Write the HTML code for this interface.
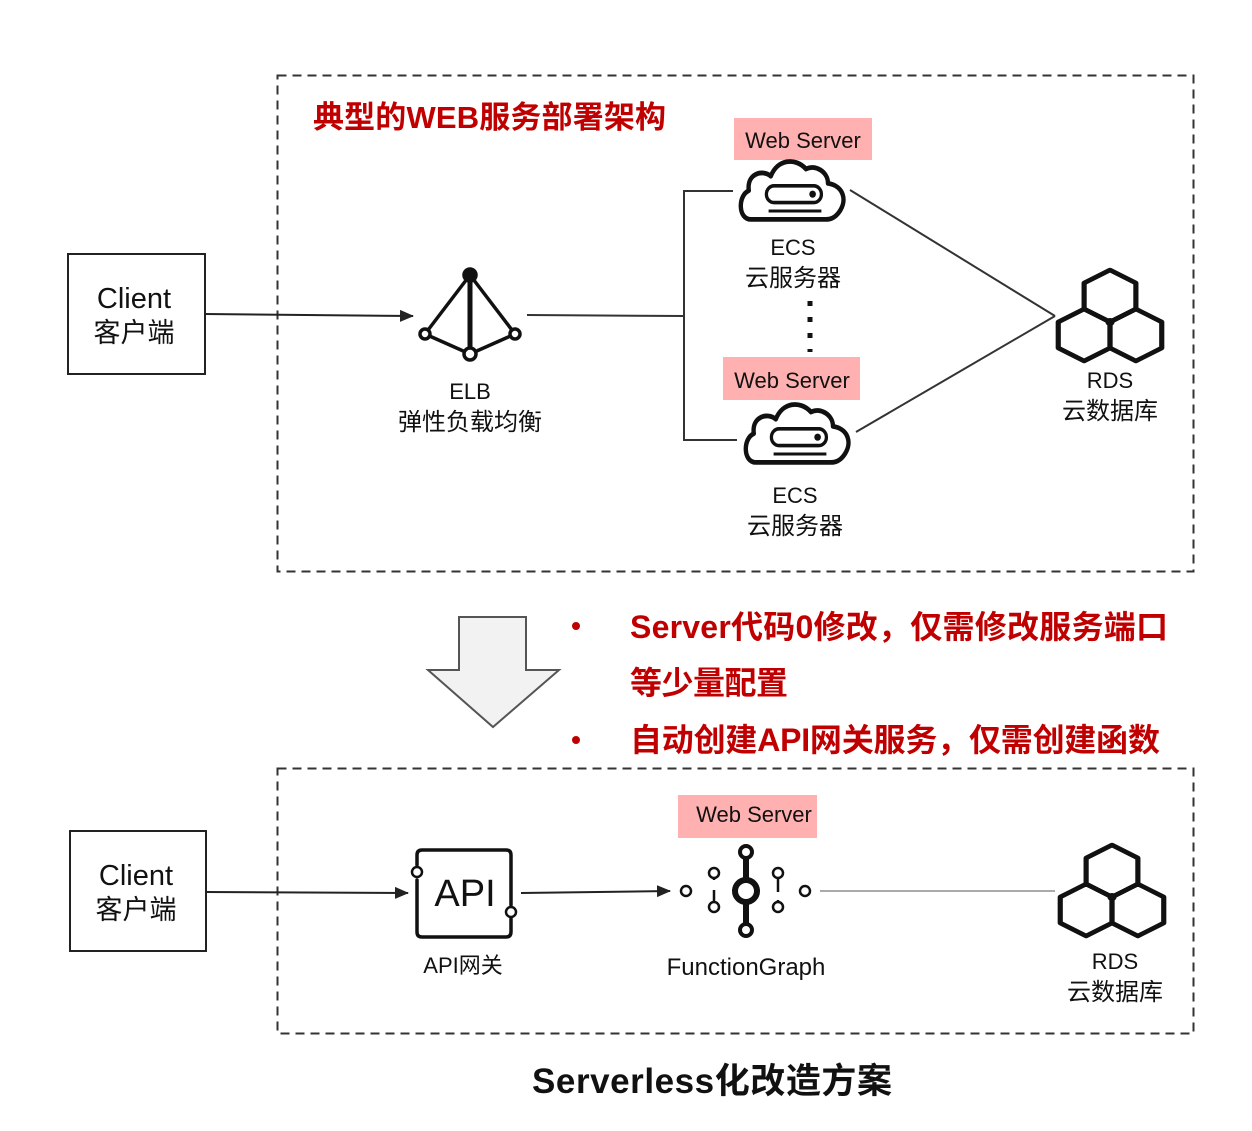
<!DOCTYPE html>
<html><head><meta charset="utf-8"><style>
html,body{margin:0;padding:0;background:#fff}
svg{display:block}
text{font-family:"Liberation Sans","Noto Sans CJK SC",sans-serif}
</style></head><body>
<svg width="1252" height="1131" viewBox="0 0 1252 1131" xmlns="http://www.w3.org/2000/svg">
<defs>
<marker id="ah" markerWidth="14" markerHeight="14" refX="13" refY="6" orient="auto" markerUnits="userSpaceOnUse" viewBox="0 0 14 12"><path d="M0,0 L14,6 L0,12 z" fill="#222"/></marker>
<g id="cloud">
<path d="M-40,22 C-52,22 -52,2 -42,-2 C-44,-16 -30,-20 -22,-14 C-16,-28 0,-30 10,-20 C18,-24 30,-18 30,-8 C44,-6 48,6 40,16 C36,21 32,22 28,22 Z" fill="#fff" stroke="#111" stroke-width="4" stroke-linejoin="round"/>
<rect x="-26" y="-6" width="50" height="14" rx="7" fill="none" stroke="#111" stroke-width="3"/>
<circle cx="16" cy="1" r="3" fill="#111"/>
<line x1="-24" y1="15" x2="24" y2="15" stroke="#111" stroke-width="2.5"/>
</g>
<g id="rds" fill="none" stroke="#111" stroke-width="4.5" stroke-linejoin="round">
<polygon points="0,-51 22.5,-38 22.5,-12 0,1 -22.5,-12 -22.5,-38"/>
<polygon points="-22.5,-12 0,1 0,27 -22.5,40 -45,27 -45,1"/>
<polygon points="22.5,-12 45,1 45,27 22.5,40 0,27 0,1"/>
<circle cx="0" cy="1" r="4" fill="#111" stroke="none"/>
</g>
</defs>

<rect x="277.5" y="75.5" width="916" height="496" fill="none" stroke="#333" stroke-width="2" stroke-dasharray="9,6"/>
<text x="313" y="128" font-size="31" font-weight="bold" fill="#c00000" textLength="353">典型的WEB服务部署架构</text>

<rect x="68" y="254" width="137" height="120" fill="#fff" stroke="#222" stroke-width="2"/>
<text x="134" y="308" font-size="29" text-anchor="middle" fill="#111">Client</text>
<text x="134" y="342" font-size="27" text-anchor="middle" fill="#111">客户端</text>
<line x1="205" y1="314" x2="413" y2="316" stroke="#222" stroke-width="2" marker-end="url(#ah)"/>

<g stroke="#111" stroke-width="3.5" fill="#fff">
<line x1="470" y1="275" x2="470" y2="354" stroke-width="5"/>
<line x1="470" y1="275" x2="425" y2="334"/>
<line x1="470" y1="275" x2="515" y2="334"/>
<line x1="425" y1="334" x2="470" y2="354"/>
<line x1="515" y1="334" x2="470" y2="354"/>
<circle cx="470" cy="275" r="6" fill="#111"/>
<circle cx="425" cy="334" r="5"/>
<circle cx="515" cy="334" r="5"/>
<circle cx="470" cy="354" r="6"/>
</g>
<text x="470" y="399" font-size="22" text-anchor="middle" fill="#111">ELB</text>
<text x="470" y="430" font-size="24" text-anchor="middle" fill="#111">弹性负载均衡</text>

<polyline points="527,315 684,316" fill="none" stroke="#333" stroke-width="2"/>
<polyline points="733,191 684,191 684,440 737,440" fill="none" stroke="#333" stroke-width="2"/>

<rect x="734" y="118" width="138" height="42" fill="#ffb0b0"/>
<text x="803" y="148" font-size="22" text-anchor="middle" fill="#111">Web Server</text>
<use href="#cloud" transform="translate(795,193) scale(1.1,1.2)"/>
<text x="793" y="255" font-size="22" text-anchor="middle" fill="#111">ECS</text>
<text x="793" y="286" font-size="24" text-anchor="middle" fill="#111">云服务器</text>
<line x1="810" y1="301" x2="810" y2="352" stroke="#111" stroke-width="5" stroke-dasharray="5,11"/>

<rect x="723" y="357" width="137" height="43" fill="#ffb0b0"/>
<text x="792" y="388" font-size="22" text-anchor="middle" fill="#111">Web Server</text>
<use href="#cloud" transform="translate(800,436) scale(1.1,1.2)"/>
<text x="795" y="503" font-size="22" text-anchor="middle" fill="#111">ECS</text>
<text x="795" y="534" font-size="24" text-anchor="middle" fill="#111">云服务器</text>

<line x1="850" y1="190" x2="1055" y2="316" stroke="#333" stroke-width="2"/>
<line x1="856" y1="432" x2="1055" y2="316" stroke="#333" stroke-width="2"/>

<use href="#rds" transform="translate(1110,321) scale(1.15,1.0)"/>
<text x="1110" y="388" font-size="22" text-anchor="middle" fill="#111">RDS</text>
<text x="1110" y="419" font-size="24" text-anchor="middle" fill="#111">云数据库</text>

<path d="M459,617 L526,617 L526,670 L559,670 L493,727 L428,670 L459,670 Z" fill="#f2f2f2" stroke="#555" stroke-width="2"/>

<circle cx="576" cy="626" r="4" fill="#c00000"/>
<circle cx="576" cy="740" r="4" fill="#c00000"/>
<text x="630" y="638" font-size="32" font-weight="bold" fill="#c00000" textLength="538">Server代码0修改，仅需修改服务端口</text>
<text x="630" y="694" font-size="32" font-weight="bold" fill="#c00000" textLength="158">等少量配置</text>
<text x="630" y="751" font-size="32" font-weight="bold" fill="#c00000" textLength="530">自动创建API网关服务，仅需创建函数</text>

<rect x="277.5" y="768.5" width="916" height="265" fill="none" stroke="#333" stroke-width="2" stroke-dasharray="9,6"/>

<rect x="70" y="831" width="136" height="120" fill="#fff" stroke="#222" stroke-width="2"/>
<text x="136" y="885" font-size="29" text-anchor="middle" fill="#111">Client</text>
<text x="136" y="919" font-size="27" text-anchor="middle" fill="#111">客户端</text>
<line x1="206" y1="892" x2="408" y2="893" stroke="#222" stroke-width="2" marker-end="url(#ah)"/>

<g fill="none" stroke="#111" stroke-width="3.5" stroke-linecap="round">
<path d="M417,865 L417,855 Q417,850 422,850 L506,850 Q511,850 511,855 L511,905"/>
<path d="M511,918 L511,932 Q511,937 506,937 L422,937 Q417,937 417,932 L417,880"/>
</g>
<circle cx="417" cy="872" r="5" fill="#fff" stroke="#111" stroke-width="2.5"/>
<circle cx="511" cy="912" r="5" fill="#fff" stroke="#111" stroke-width="2.5"/>
<text x="465" y="906" font-size="38" text-anchor="middle" fill="#111">API</text>
<text x="463" y="973" font-size="22" text-anchor="middle" fill="#111">API网关</text>

<line x1="521" y1="893" x2="670" y2="891" stroke="#222" stroke-width="2" marker-end="url(#ah)"/>

<rect x="678" y="795" width="139" height="43" fill="#ffb0b0"/>
<text x="754" y="822" font-size="22" text-anchor="middle" fill="#111">Web Server</text>
<g stroke="#111" fill="#fff">
<line x1="746" y1="852" x2="746" y2="930" stroke-width="6"/>
<line x1="714" y1="878" x2="714" y2="902" stroke-width="2.5"/>
<line x1="778" y1="878" x2="778" y2="902" stroke-width="2.5"/>
<circle cx="746" cy="852" r="6" stroke-width="4"/>
<circle cx="746" cy="891" r="11" stroke-width="6"/>
<circle cx="746" cy="930" r="6" stroke-width="4"/>
<circle cx="714" cy="873" r="5" stroke-width="2.5"/>
<circle cx="714" cy="907" r="5" stroke-width="2.5"/>
<circle cx="778" cy="873" r="5" stroke-width="2.5"/>
<circle cx="778" cy="907" r="5" stroke-width="2.5"/>
<circle cx="686" cy="891" r="5" stroke-width="2.5"/>
<circle cx="805" cy="891" r="5" stroke-width="2.5"/>
</g>
<rect x="708" y="880" width="12" height="10" fill="#fff"/>
<rect x="772" y="892" width="12" height="8" fill="#fff"/>
<text x="746" y="975" font-size="24" text-anchor="middle" fill="#111">FunctionGraph</text>

<line x1="820" y1="891" x2="1055" y2="891" stroke="#777" stroke-width="1.2"/>
<use href="#rds" transform="translate(1112,896) scale(1.15,1.0)"/>
<text x="1115" y="969" font-size="22" text-anchor="middle" fill="#111">RDS</text>
<text x="1115" y="1000" font-size="24" text-anchor="middle" fill="#111">云数据库</text>

<text x="712" y="1093" font-size="35" font-weight="bold" text-anchor="middle" fill="#111" textLength="360">Serverless化改造方案</text>
</svg>
</body></html>
